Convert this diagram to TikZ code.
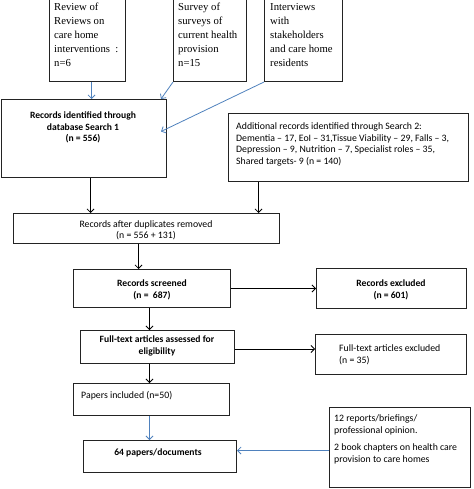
\documentclass[tikz,border=0pt]{standalone}
\usepackage{fontspec}
\setmainfont{Carlito}
\newfontfamily\tnr{Liberation Serif}
\usetikzlibrary{arrows.meta}
\definecolor{arrblue}{RGB}{79,129,189}
\definecolor{boxline}{RGB}{35,35,35}
\begin{document}
\begin{tikzpicture}[x=1pt,y=-1pt,
  box/.style={draw=boxline, line width=1pt, inner sep=0pt, anchor=north west},
  cal/.style={font=\fontsize{9.8}{11.5}\selectfont, inner sep=0pt, align=center, anchor=north},
  calb/.style={font=\fontsize{9.6}{11.5}\selectfont\bfseries, inner sep=0pt, align=center, anchor=north},
  tms/.style={font=\tnr\fontsize{10.7}{14}\selectfont, inner sep=0pt, align=left, anchor=north west},
  arr/.style={-{Straight Barb[length=3.5pt,width=7pt]}, line width=0.8pt},
  barr/.style={arr, draw=arrblue}]
\useasboundingbox (0,0) rectangle (473,489);
% boxes
\node[box, minimum width=76, minimum height=83] (r1) at (49,-2) {};
\node[box, minimum width=73, minimum height=83] (r2) at (173,-2) {};
\node[box, minimum width=78, minimum height=83] (r3) at (264,-2) {};
\node[box, minimum width=165, minimum height=78] (b4) at (1,99) {};
\node[box, minimum width=240, minimum height=68] (b5) at (228,113) {};
\node[box, minimum width=266, minimum height=30] (b6) at (13,213) {};
\node[box, minimum width=157, minimum height=38] (b7) at (73,269) {};
\node[box, minimum width=150, minimum height=40] (b8) at (316,268) {};
\node[box, minimum width=154, minimum height=33] (b9) at (80,330) {};
\node[box, minimum width=151, minimum height=40] (b10) at (315,334) {};
\node[box, minimum width=156, minimum height=32] (b11) at (73,383) {};
\node[box, minimum width=153, minimum height=32] (b12) at (83,440) {};
\node[box, minimum width=141, minimum height=80] (b13) at (329,407) {};
% texts
\node[tms] (t1) at (54,3) {Review of\\Reviews on\\care home\\interventions\ \ :\\n=6};
\node[tms] (t2) at (178,3) {Survey of\\surveys of\\current health\\provision\\n=15};
\node[tms] (t3) at (270,3) {Interviews\\with\\stakeholders\\and care home\\residents};
\node[calb] (t4) at (83,112) {Records identified through\\database Search 1\\(n = 556)};
\node[cal, align=left, anchor=north west] (t5) at (236,122.5) {Additional records identified through Search 2:\\Dementia -- 17, EoI -- 31,Tissue Viability -- 29, Falls -- 3,\\Depression -- 9, Nutrition -- 7, Specialist roles -- 35,\\Shared targets- 9 (n = 140)};
\node[cal] (t6) at (146,220) {Records after duplicates removed\\(n = 556 + 131)};
\node[calb] (t7) at (152,280) {Records screened\\(n =\ \ 687)};
\node[calb] (t8) at (391,280) {Records excluded\\(n = 601)};
\node[calb] (t9) at (157,336) {Full-text articles assessed for\\eligibility};
\node[cal, align=left, anchor=north west] (t10) at (339,344.5) {Full-text articles excluded\\(n = 35)};
\node[cal, anchor=north west] (t11) at (81,391.5) {Papers included (n=50)};
\node[calb] (t12) at (158,449) {64 papers/documents};
\node[cal, align=left, anchor=north west] (t13) at (334,414.5) {12 reports/briefings/\\professional opinion.\\[6pt]2 book chapters on health care\\provision to care homes};
% connectors
\draw[barr] ([xshift=4]r1.south) -- ([xshift=4]r1.south |- b4.north);
\draw[barr] (r2.south west) -- ([xshift=-6]b4.north east);
\draw[barr] (r3.south west) -- ([xshift=-6,yshift=7]b4.east);
\draw[arr] ([xshift=6.5]b4.south) -- ([xshift=6.5]b4.south |- b6.north);
\draw[arr] ([xshift=-90]b5.south) -- ([xshift=-90]b5.south |- b6.north);
\draw[arr] ([xshift=-8]b6.south) -- ([xshift=-8]b6.south |- b7.north);
\draw[arr] (b7.east) -- (b7.east -| b8.west);
\draw[arr] ([xshift=-2.5]b7.south) -- ([xshift=-2.5]b7.south |- b9.north);
\draw[arr] ([yshift=-2]b9.east) -- ([yshift=-2]b9.east -| b10.west);
\draw[arr] ([xshift=-8]b9.south) -- ([xshift=-8]b9.south |- b11.north);
\draw[barr] ([xshift=-2]b11.south) -- ([xshift=-2]b11.south |- b12.north);
\draw[barr] ([yshift=-3]b13.west) -- ([yshift=-3]b13.west -| b12.east);
\end{tikzpicture}
\end{document}
